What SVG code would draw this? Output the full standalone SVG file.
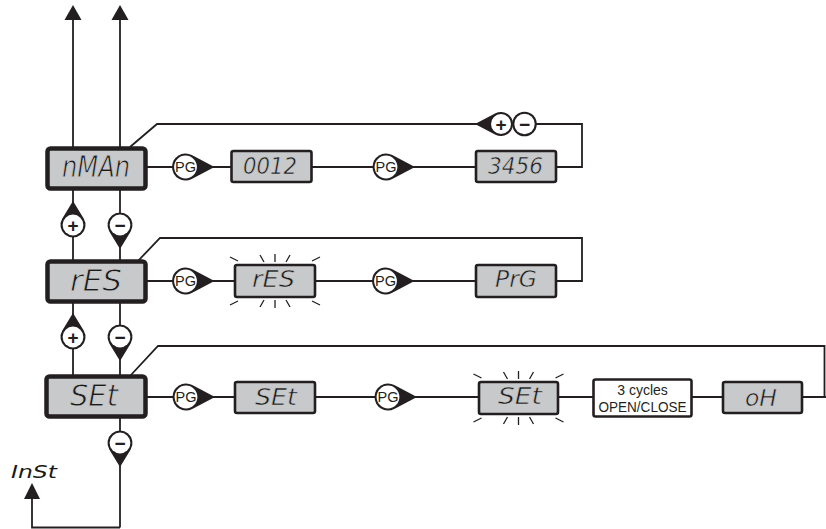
<svg xmlns="http://www.w3.org/2000/svg" xmlns:xlink="http://www.w3.org/1999/xlink" width="826" height="529" viewBox="0 0 826 529">
<style>
.ln{fill:none;stroke:#231f20;stroke-width:1.8}
.big{fill:#c8c9ca;stroke:#231f20;stroke-width:4.5}
.sm{fill:#c8c9ca;stroke:#231f20;stroke-width:2.6}
.wb{fill:#ffffff;stroke:#231f20;stroke-width:2.6}
.seg{font-family:"DejaVu Sans","Liberation Sans",sans-serif;font-weight:normal;font-style:oblique;fill:#1a1a1a;text-anchor:middle;stroke:#c8c9ca;stroke-width:0.6px}
.sb{font-size:30px;stroke-width:0.9px}
.ss{font-size:23px}
.pg{font-family:"Liberation Sans",Arial,sans-serif;font-size:14.5px;fill:#231f20;text-anchor:middle}
.sg{font-family:"Liberation Sans",Arial,sans-serif;font-size:19px;font-weight:bold;fill:#231f20;text-anchor:middle}
.lbl{font-family:"Liberation Sans",Arial,sans-serif;font-size:14px;fill:#231f20;text-anchor:middle}
.ray{fill:none;stroke:#231f20;stroke-width:1.3}
.blk{fill:#231f20}
</style>
<defs>
<g id="pgdrop">
<path class="blk" d="M29 0 L6.28 -11.95 A13.5 13.5 0 1 0 6.28 11.95 Z"/>
<circle r="11.4" fill="#ffffff"/>
</g>
<g id="pmdrop">
<path class="blk" d="M24 0 L6.5 -10.7 A12.5 12.5 0 1 0 6.5 10.7 Z"/>
<circle r="10.4" fill="#ffffff"/>
</g>
<g id="rays">
<path class="ray" d="M-45 -7 L-37 -3 M-15 -9 L-11 -2 M0 -10 L0 -2 M15 -9 L11 -2 M45 -7 L37 -3"/>
</g>
</defs>

<g id="connectors">
<line class="ln" x1="73" y1="19" x2="73" y2="376"/>
<line class="ln" x1="120" y1="19" x2="120" y2="527.5"/>
<polygon class="blk" points="73,5 64.5,20 81.5,20"/>
<polygon class="blk" points="120,5 111.5,20 128.5,20"/>
<polyline class="ln" points="120,527.5 32,527.5 32,497"/>
<polygon class="blk" points="32,483 24,499 40,499"/>
<line class="ln" x1="147" y1="167" x2="476" y2="167"/>
<polyline class="ln" points="556,167 582,167 582,124 157,124 130,147"/>
<line class="ln" x1="147" y1="281" x2="476" y2="281"/>
<polyline class="ln" points="556,281 582,281 582,238 160,238 137,262"/>
<line class="ln" x1="147" y1="397" x2="826" y2="397"/>
<polyline class="ln" points="824.5,397 824.5,346 158,346 130,376"/>
</g>

<g id="node-nMAn">
<rect class="big" x="47.5" y="148.5" width="98" height="40" rx="3"/>
<text class="seg sb" x="96" y="177" textLength="68" lengthAdjust="spacingAndGlyphs">nMAn</text>
</g>
<g id="node-rES-main">
<rect class="big" x="47.5" y="261.5" width="98" height="40" rx="3"/>
<text class="seg sb" x="96" y="291" textLength="52" lengthAdjust="spacingAndGlyphs">rES</text>
</g>
<g id="node-SEt-main">
<rect class="big" x="46.5" y="376.5" width="99" height="40" rx="3"/>
<text class="seg sb" x="94" y="406" textLength="48" lengthAdjust="spacingAndGlyphs">SEt</text>
</g>

<g id="node-pg1"><use xlink:href="#pgdrop" x="185.5" y="167"/><text class="pg" x="185.5" y="172">PG</text></g>
<g id="node-pg2"><use xlink:href="#pgdrop" x="386" y="167"/><text class="pg" x="386" y="172">PG</text></g>
<g id="node-pg3"><use xlink:href="#pgdrop" x="185.5" y="281"/><text class="pg" x="185.5" y="286">PG</text></g>
<g id="node-pg4"><use xlink:href="#pgdrop" x="385.5" y="281"/><text class="pg" x="385.5" y="286">PG</text></g>
<g id="node-pg5"><use xlink:href="#pgdrop" x="186" y="397"/><text class="pg" x="186" y="402">PG</text></g>
<g id="node-pg6"><use xlink:href="#pgdrop" x="388" y="397"/><text class="pg" x="388" y="402">PG</text></g>

<g id="node-0012">
<rect class="sm" x="231.5" y="151" width="80" height="31" rx="2"/>
<text class="seg ss" x="270" y="174" textLength="54" lengthAdjust="spacingAndGlyphs">0012</text>
</g>
<g id="node-3456">
<rect class="sm" x="476" y="151" width="80" height="31" rx="2"/>
<text class="seg ss" x="515.5" y="174" textLength="55" lengthAdjust="spacingAndGlyphs">3456</text>
</g>
<g id="node-plusminus">
<path class="blk" d="M475 124 L495.46 113.36 A12 12 0 1 1 495.46 134.64 Z"/>
<circle class="blk" cx="524.5" cy="124" r="12.3"/>
<circle cx="501" cy="124" r="10" fill="#ffffff"/>
<circle cx="524.5" cy="124" r="10.2" fill="#ffffff"/>
<text class="sg" x="501" y="130.5">+</text>
<text class="sg" x="524.5" y="130.5">−</text>
</g>

<g id="node-rES-blink">
<use xlink:href="#rays" x="275" y="264"/>
<use xlink:href="#rays" transform="translate(275,298) scale(1,-1)"/>
<rect class="sm" x="235" y="265" width="80" height="32" rx="2"/>
<text class="seg ss" x="273.5" y="287" textLength="43" lengthAdjust="spacingAndGlyphs">rES</text>
</g>
<g id="node-PrG">
<rect class="sm" x="476" y="265" width="80" height="32" rx="2"/>
<text class="seg ss" x="516" y="287" textLength="42" lengthAdjust="spacingAndGlyphs">PrG</text>
</g>

<g id="node-SEt">
<rect class="sm" x="235" y="382" width="80" height="31" rx="2"/>
<text class="seg ss" x="276" y="405" textLength="42" lengthAdjust="spacingAndGlyphs">SEt</text>
</g>
<g id="node-SEt-blink">
<use xlink:href="#rays" x="518.5" y="381"/>
<use xlink:href="#rays" transform="translate(518.5,415) scale(1,-1)"/>
<rect class="sm" x="479" y="382" width="79" height="32" rx="2"/>
<text class="seg ss" x="520" y="404" textLength="44" lengthAdjust="spacingAndGlyphs">SEt</text>
</g>
<g id="node-cycles">
<rect class="wb" x="593.5" y="379.5" width="98" height="37" rx="2"/>
<text class="lbl" x="642.5" y="394.5">3 cycles</text>
<text class="lbl" x="642.5" y="411.5" textLength="88" lengthAdjust="spacingAndGlyphs">OPEN/CLOSE</text>
</g>
<g id="node-oH">
<rect class="sm" x="723" y="382" width="79" height="31" rx="2"/>
<text class="seg ss" x="761" y="406" textLength="32" lengthAdjust="spacingAndGlyphs">oH</text>
</g>

<g id="node-plus1"><use xlink:href="#pmdrop" transform="translate(73,225) rotate(-90)"/><text class="sg" x="73" y="231.5">+</text></g>
<g id="node-minus1"><use xlink:href="#pmdrop" transform="translate(120,225) rotate(90)"/><text class="sg" x="120" y="231.5">−</text></g>
<g id="node-plus2"><use xlink:href="#pmdrop" transform="translate(73,337) rotate(-90)"/><text class="sg" x="73" y="343.5">+</text></g>
<g id="node-minus2"><use xlink:href="#pmdrop" transform="translate(120,337) rotate(90)"/><text class="sg" x="120" y="343.5">−</text></g>
<g id="node-minus3"><use xlink:href="#pmdrop" transform="translate(120,443) rotate(90)"/><text class="sg" x="120" y="449.5">−</text></g>

<g id="node-InSt">
<text class="seg" style="font-size:18px;stroke:none" x="34" y="478" textLength="46" lengthAdjust="spacingAndGlyphs">InSt</text>
</g>
</svg>
